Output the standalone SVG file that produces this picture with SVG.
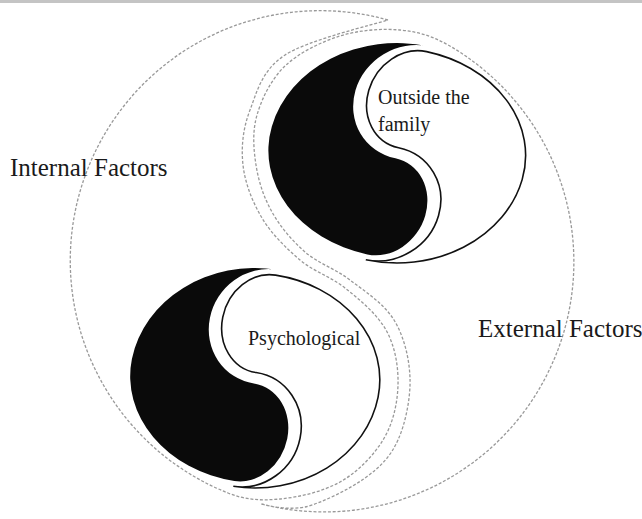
<svg xmlns="http://www.w3.org/2000/svg" width="642" height="519" viewBox="0 0 642 519">
<style>
  .dash{fill:none;stroke:#999;stroke-width:1.3;stroke-dasharray:3 1.8}
  .dark{fill:#0a0a0a}
  .light{fill:#fff;stroke:#111;stroke-width:1.6;vector-effect:non-scaling-stroke}
  .lbl{font-family:"Liberation Serif","Times New Roman",serif;fill:#1a1a1a}
  .big{font-size:25px}
  .small{font-size:20px}
</style>
<defs>
  <path id="yinDark" class="dark" d="M0,-100 A100,100 0 0 0 -100,0 A100,95 0 0 0 0,95 A35,45 0 1 0 0,5 A45,52.5 0 1 1 0,-100 Z"/>
  <path id="yinLight" class="light" d="M0,100 A100,100 0 0 0 100,0 A100,95 0 0 0 0,-95 A35,45 0 1 0 0,-5 A45,52.5 0 1 1 0,100 Z"/>
</defs>
<rect x="0" y="0" width="642" height="3" fill="#c4c4c4"/>
<g id="connectors"></g>
<g id="internal-factors">
  <path class="dash" d="M388,20 A250,250 0 0 0 228,493 C245,500 261.3,500.8 280,499 C298.7,497.2 322.5,491.8 340,482 C357.5,472.2 373,456.2 383,440 C393,423.8 397.5,403.3 398,385 C398.5,366.7 395.2,346.2 386,330 C376.8,313.8 359.7,299.7 345,288 C330.3,276.3 313.8,271.7 300,260 C286.2,248.3 271.5,233.8 262,218 C252.5,202.2 245,183 243,165 C241,147 243,128.3 250,110 C257,91.7 262,70 285,55 C308,40 373.7,24.5 388,20"/>
  <text class="lbl big" x="10" y="176">Internal Factors</text>
</g>
<g id="external-factors">
  <path class="dash" d="M261.4,504 A250,250 0 0 0 449,45.5 C433.4,36.5 418.2,31.6 400,30 C381.8,28.4 359.2,30 340,36 C320.8,42 298.8,52.8 285,66 C271.2,79.2 261.8,98.5 257,115 C252.2,131.5 253.5,148.8 256,165 C258.5,181.2 263.8,197.5 272,212 C280.2,226.5 292,240.7 305,252 C318,263.3 335.2,268.7 350,280 C364.8,291.3 384,303.7 394,320 C404,336.3 409.3,358 410,378 C410.7,398 405.5,423.3 398,440 C390.5,456.7 380.5,466.8 365,478 C349.5,489.2 322.3,502.7 305,507 C290,510 272,507 261.4,504 Z"/>
  <text class="lbl big" x="478" y="337">External Factors</text>
</g>
<g id="outside-the-family">
  <g transform="translate(397,153) scale(1.29,1.1) rotate(14)">
    <use href="#yinDark"/>
    <use href="#yinLight"/>
  </g>
  <text class="lbl small" x="378" y="104">Outside the</text>
  <text class="lbl small" x="378" y="131">family</text>
</g>
<g id="psychological">
  <g transform="translate(255,378) scale(1.25,1.1) rotate(10)">
    <use href="#yinDark"/>
    <use href="#yinLight"/>
  </g>
  <text class="lbl small" x="248" y="345">Psychological</text>
</g>
</svg>
